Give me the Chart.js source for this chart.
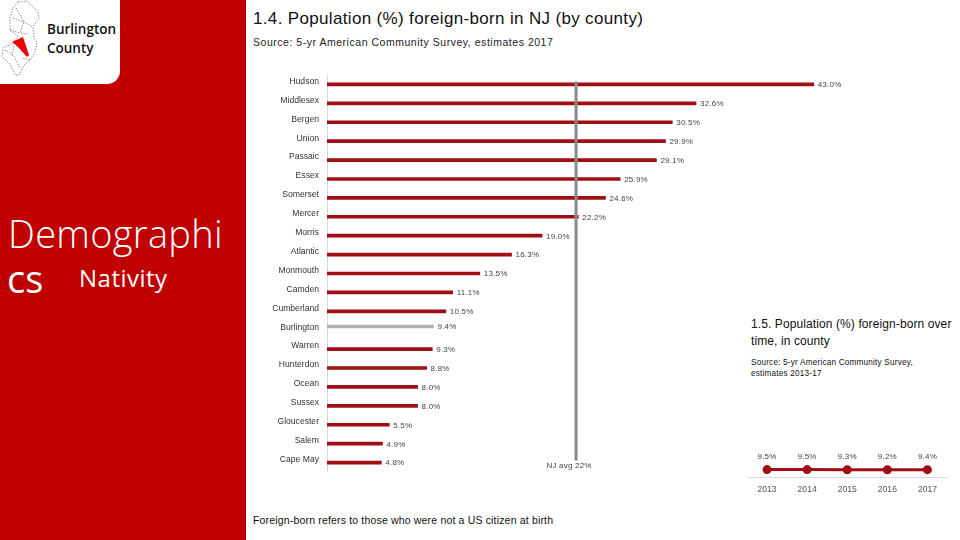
<!DOCTYPE html>
<html>
<head>
<meta charset="utf-8">
<title>Burlington County - Nativity</title>
<script src="https://cdn.jsdelivr.net/npm/chart.js@4/dist/chart.umd.min.js"></script>
<style>
    html, body { margin: 0; padding: 0; background: #fff; }
    body { position: relative; width: 960px; height: 540px; overflow: hidden; font-family: "Liberation Sans", sans-serif; color: #111; }
    div, canvas, svg { position: absolute; }
    .nowrap { white-space: nowrap; }
    #panel { left: 0; top: 0; width: 246px; height: 540px; background: #c00000; }
    #tab { left: 0; top: 0; width: 120px; height: 84px; background: #fff; border-bottom-right-radius: 13px; }
    #county { left: 47px; top: 20px; font: 600 13.5px/19px "Open Sans", sans-serif; color: #111; }
    #section1 { left: 8px; top: 207px; font: 300 38px/52px "Open Sans", sans-serif; color: #fff; letter-spacing: 0.3px; }
    #section2 { left: 7px; top: 254px; font: 400 38px/48px "Open Sans", sans-serif; color: #fff; }
    #subsection { left: 79px; top: 263px; font: 400 24px/30px "Open Sans", sans-serif; color: #fff; letter-spacing: 0.5px; }
    #title { left: 253px; top: 9px; font-size: 17px; line-height: 20px; letter-spacing: 0.34px; }
    #source { left: 253px; top: 35px; font-size: 10.5px; line-height: 14px; letter-spacing: 0.53px; color: #222; }
    #note { left: 253px; top: 513px; font-size: 10.5px; line-height: 14px; letter-spacing: 0.17px; }
    #title2 { left: 751px; top: 316px; font-size: 12px; line-height: 17px; width: 209px; letter-spacing: 0.1px; }
    #source2 { left: 751px; top: 357px; font-size: 8.2px; line-height: 11px; width: 190px; letter-spacing: 0.2px; }
    #barChart { left: 250px; top: 75px; }
    #lineChart { left: 740px; top: 380px; }
</style>
</head>
<body>
<div id="panel"></div>
<div id="tab"></div>
<svg width="50" height="80" style="left:0;top:0" fill="none" stroke="#666" stroke-width="0.9" stroke-dasharray="1.2 1.6">
    <path d="M18 2 L27 1 L38 12 L39 18 L33 27 L34 38 L37 42 L35 52 L30 60 L24 65 L19 75 L15 75 L10 64 L2 57 L3 48 L13 43 L18 36 L10 30 L10 18 L13 8 Z"/>
    <path d="M13 18 L24 22 L33 27 M16 8 L24 22 L20 33 M10 30 L20 33 L28 34 M5 50 L14 56 L20 68 M14 46 L12 56 M30 60 L22 58"/>
    <path d="M12 42 L23 37 L29 55 L27 57 L18 47 Z" fill="#f00000" stroke="none"/>
</svg>
<div id="county">Burlington<br>County</div>
<div id="section1" class="nowrap">Demographi</div>
<div id="section2" class="nowrap">cs</div>
<div id="subsection" class="nowrap">Nativity</div>
<div id="title" class="nowrap">1.4. Population (%) foreign-born in NJ (by county)</div>
<div id="source" class="nowrap">Source: 5-yr American Community Survey, estimates 2017</div>
<div id="note" class="nowrap">Foreign-born refers to those who were not a US citizen at birth</div>
<div id="title2">1.5. Population (%) foreign-born over time, in county</div>
<div id="source2">Source: 5-yr American Community Survey, estimates 2013-17</div>
<canvas id="barChart" width="660" height="397"></canvas>
<canvas id="lineChart" width="220" height="120"></canvas>

<script>
const counties = ['Hudson', 'Middlesex', 'Bergen', 'Union', 'Passaic', 'Essex', 'Somerset', 'Mercer', 'Morris', 'Atlantic', 'Monmouth', 'Camden', 'Cumberland', 'Burlington', 'Warren', 'Hunterdon', 'Ocean', 'Sussex', 'Gloucester', 'Salem', 'Cape May'];
const foreignBorn = [43.0, 32.6, 30.5, 29.9, 29.1, 25.9, 24.6, 22.2, 19.0, 16.3, 13.5, 11.1, 10.5, 9.4, 9.3, 8.8, 8.0, 8.0, 5.5, 4.9, 4.8];
const njAverage = 22;
const highlightCounty = 'Burlington';

const years = ['2013', '2014', '2015', '2016', '2017'];
const countyShare = [9.5, 9.5, 9.3, 9.2, 9.4];

const RED = '#a00f14';
const GRAY = '#b0b0b0';
const TEXT_FONT = '"Liberation Sans", sans-serif';

function drawLabel(ctx, text, x, y, align) {
    ctx.save();
    ctx.font = '8px ' + TEXT_FONT;
    ctx.letterSpacing = '0.2px';
    ctx.fillStyle = '#444';
    ctx.textAlign = align;
    ctx.textBaseline = 'middle';
    ctx.fillText(text, x, y);
    ctx.restore();
}

// the Burlington bar sits a little above its row in the original
const nudgeHighlight = {
    id: 'nudgeHighlight',
    afterDatasetsUpdate(chart) {
        chart.getDatasetMeta(0).data[counties.indexOf(highlightCounty)].y -= 3.7;
    }
};

const barLabels = {
    id: 'barLabels',
    afterDatasetsDraw(chart) {
        const { ctx, scales } = chart;
        const avgX = scales.x.getPixelForValue(njAverage);
        const top = scales.y.getPixelForValue(0) - 3;
        const bottom = scales.y.getPixelForValue(counties.length - 1) - 2;

        ctx.save();
        ctx.strokeStyle = '#8a8a8a';
        ctx.lineWidth = 3;
        ctx.beginPath();
        ctx.moveTo(avgX, top);
        ctx.lineTo(avgX, bottom);
        ctx.stroke();
        ctx.restore();

        chart.getDatasetMeta(0).data.forEach((bar, i) => {
            drawLabel(ctx, foreignBorn[i].toFixed(1) + '%', bar.x + 4, bar.y + 0.7, 'left');
        });
        drawLabel(ctx, 'NJ avg ' + njAverage + '%', avgX - 7, bottom + 5, 'center');
    }
};

const lineLabels = {
    id: 'lineLabels',
    afterDatasetsDraw(chart) {
        chart.getDatasetMeta(0).data.forEach((point, i) => {
            drawLabel(chart.ctx, countyShare[i].toFixed(1) + '%', point.x, point.y - 13, 'center');
        });
    }
};

new Chart(document.getElementById('barChart'), {
    type: 'bar',
    data: {
        labels: counties,
        datasets: [{
            data: foreignBorn,
            backgroundColor: counties.map(c => c === highlightCounty ? GRAY : RED),
            barThickness: 3
        }]
    },
    options: {
        indexAxis: 'y',
        responsive: false,
        animation: false,
        layout: { padding: { right: 17 } },
        plugins: { legend: { display: false }, tooltip: { enabled: false } },
        scales: {
            x: { display: false, min: 0, max: 50 },
            y: {
                afterFit(scale) {
                    scale.width = 77;
                    scale.paddingTop = 0;
                    scale.paddingBottom = 0;
                },
                grid: { display: false, drawTicks: false },
                border: { color: '#d9d9d9' },
                ticks: {
                    color: '#333',
                    padding: 8,
                    labelOffset: -3,
                    autoSkip: false,
                    font: { family: TEXT_FONT, size: 8.6 }
                }
            }
        }
    },
    plugins: [nudgeHighlight, barLabels]
});

new Chart(document.getElementById('lineChart'), {
    type: 'line',
    data: {
        labels: years,
        datasets: [{
            data: countyShare,
            borderColor: RED,
            backgroundColor: RED,
            borderWidth: 3,
            pointRadius: 3,
            tension: 0
        }]
    },
    options: {
        responsive: false,
        animation: false,
        layout: { padding: { left: 5, right: 12.5 } },
        plugins: { legend: { display: false }, tooltip: { enabled: false } },
        scales: {
            y: { display: false, min: 0, max: 115 },
            x: {
                offset: true,
                afterFit(scale) { scale.height = 23; },
                grid: { display: false, drawTicks: false },
                border: { color: '#d9d9d9' },
                ticks: { color: '#555', padding: 7, font: { family: TEXT_FONT, size: 8.6 } }
            }
        }
    },
    plugins: [lineLabels]
});
</script>
</body>
</html>
